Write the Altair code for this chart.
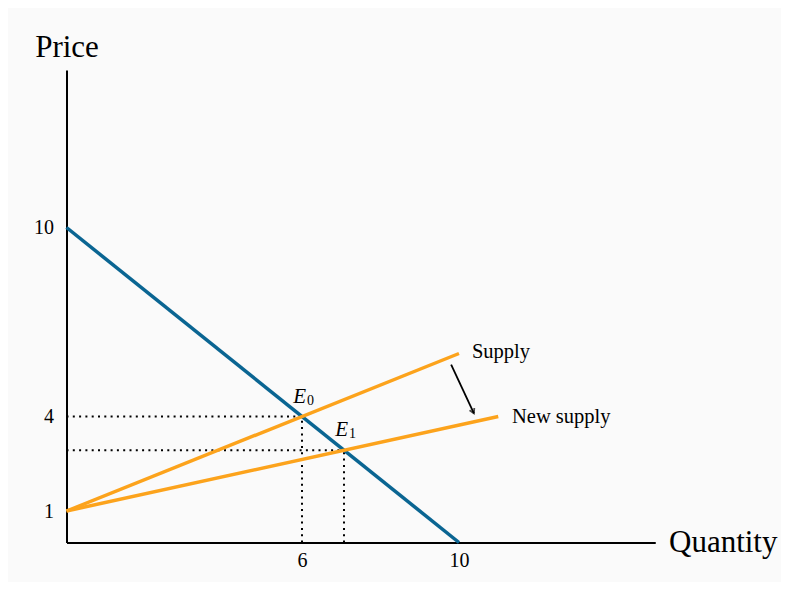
import altair as alt
import pandas as pd

# Curves (quantity, price)
demand_q = [0, 10]
demand_p = [10, 0]
supply_q = [0, 10]
supply_p = [1, 6]
new_supply_q = [0, 11]
new_supply_p = [1, 4]

# Equilibria
eq_names = ["E0", "E1"]
eq_q = [6, 7.07]
eq_p = [4, 2.93]

# Tick labels
x_ticks = [6, 10]
y_ticks = [1, 4, 10]

# Arrow (shift of supply)
arrow_q = [9.8, 10.38]
arrow_p = [5.65, 4.1]

# Curve labels
label_text = ["Supply", "New supply"]
label_q = [10.33, 11.35]
label_p = [6.05, 4.0]

FONT = "Liberation Serif"
BLUE = "#0a6592"
ORANGE = "#fca31c"

W = 15 * 39.25
H = 15 * 31.5

xs = alt.Scale(domain=[0, 15], nice=False, zero=False)
ys = alt.Scale(domain=[0, 15], nice=False, zero=False)

curves = pd.DataFrame({
    "q": demand_q + supply_q + new_supply_q,
    "p": demand_p + supply_p + new_supply_p,
    "curve": ["Demand"] * 2 + ["Supply"] * 2 + ["New supply"] * 2,
})

base_axes = alt.Chart(pd.DataFrame({"q": [0], "p": [0]})).mark_point(opacity=0).encode(
    x=alt.X("q:Q", scale=xs, axis=alt.Axis(
        values=x_ticks, ticks=False, grid=False, domainColor="black", domainWidth=2,
        labelFont=FONT, labelFontSize=20, labelColor="black", labelPadding=8,
        title="Quantity", titleFont=FONT, titleFontSize=31, titleFontWeight="normal",
        titleColor="black", titleAnchor="start", titleAlign="left", titleBaseline="middle",
        titleX=602, titleY=0)),
    y=alt.Y("p:Q", scale=ys, axis=alt.Axis(
        values=y_ticks, ticks=False, grid=False, domainColor="black", domainWidth=2,
        labelFont=FONT, labelFontSize=20, labelColor="black", labelPadding=13,
        title="Price", titleFont=FONT, titleFontSize=31, titleFontWeight="normal",
        titleColor="black", titleAngle=0, titleAlign="center", titleBaseline="alphabetic",
        titleX=0, titleY=-14)),
)

lines = alt.Chart(curves).mark_line(strokeWidth=3.5, clip=False).encode(
    x=alt.X("q:Q", scale=xs),
    y=alt.Y("p:Q", scale=ys),
    color=alt.Color("curve:N", scale=alt.Scale(domain=["Demand", "Supply", "New supply"],
                                               range=[BLUE, ORANGE, ORANGE]), legend=None),
    detail="curve:N",
)

eq = pd.DataFrame({"name": eq_names, "q": eq_q, "p": eq_p, "zero": [0, 0]})

hdots = alt.Chart(eq).mark_rule(color="black", strokeWidth=2, strokeDash=[2, 4.3]).encode(
    x=alt.X("zero:Q", scale=xs), x2="q:Q", y=alt.Y("p:Q", scale=ys))
vdots = alt.Chart(eq).mark_rule(color="black", strokeWidth=2, strokeDash=[2, 4.3]).encode(
    x=alt.X("q:Q", scale=xs), y=alt.Y("zero:Q", scale=ys), y2="p:Q")

eq_E = alt.Chart(eq).mark_text(font=FONT, fontSize=21, fontStyle="italic", color="black",
                               align="right", baseline="alphabetic", dx=4, dy=-14).encode(
    x=alt.X("q:Q", scale=xs), y=alt.Y("p:Q", scale=ys), text=alt.value("E"))
eq_sub = pd.DataFrame({"q": eq_q, "p": eq_p, "sub": ["0", "1"]})
eq_S = alt.Chart(eq_sub).mark_text(font=FONT, fontSize=14, color="black",
                                   align="left", baseline="alphabetic", dx=5, dy=-12).encode(
    x=alt.X("q:Q", scale=xs), y=alt.Y("p:Q", scale=ys), text="sub:N")

labels = alt.Chart(pd.DataFrame({"t": label_text, "q": label_q, "p": label_p})).mark_text(
    font=FONT, fontSize=20.5, color="black", align="left", baseline="middle").encode(
    x=alt.X("q:Q", scale=xs), y=alt.Y("p:Q", scale=ys), text="t:N")

arrow_df = pd.DataFrame({"q": arrow_q, "p": arrow_p, "o": [0, 1]})
arrow_line = alt.Chart(arrow_df).mark_line(color="black", strokeWidth=1.8).encode(
    x=alt.X("q:Q", scale=xs), y=alt.Y("p:Q", scale=ys), order="o:O")
arrow_head = alt.Chart(arrow_df.iloc[[1]]).mark_point(
    shape="M-0.55,-1 L0,0 L0.55,-1", filled=False, stroke="black", strokeWidth=1.8,
    size=90, angle=335).encode(
    x=alt.X("q:Q", scale=xs), y=alt.Y("p:Q", scale=ys))

chart = alt.layer(base_axes, hdots, vdots, lines, arrow_line, arrow_head, eq_E, eq_S, labels).properties(
    width=W, height=H,
    autosize=alt.AutoSizeParams(type="none"),
    padding={"left": 58.5, "top": 62, "right": 773 - 58.5 - W, "bottom": 574 - 62 - H},
    background="#fafafa",
).configure_view(stroke=None)

chart.save("out.html", embed_options={"renderer": "svg", "actions": False})
